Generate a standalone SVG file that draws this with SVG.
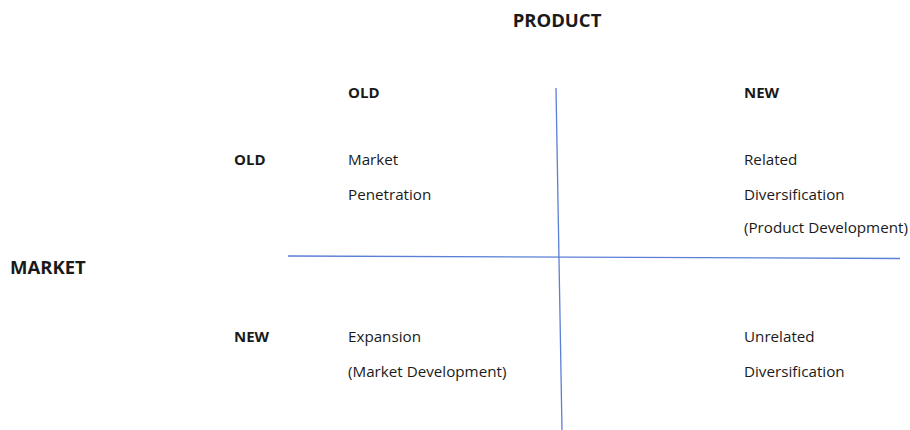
<svg xmlns="http://www.w3.org/2000/svg" width="910" height="430" viewBox="0 0 910 430">
  <style>
    text { font-family: "Open Sans", "Liberation Sans", sans-serif; fill: #1a1a1a; }
    .head { font-size: 18.5px; font-weight: bold; }
    .axis { font-size: 15px; font-weight: bold; }
    .cell { font-size: 15.2px; }
    .rule { stroke: #5b7fd6; stroke-width: 1.3; fill: none; }
  </style>
  <rect width="910" height="430" fill="#ffffff"/>

  <g id="connectors">
    <line class="rule" x1="288" y1="256" x2="900" y2="258.5"/>
    <line class="rule" x1="556" y1="88" x2="562" y2="430"/>
  </g>

  <g id="product-axis">
    <text class="head" x="557" y="27" text-anchor="middle">PRODUCT</text>
    <text class="axis" x="348" y="98">OLD</text>
    <text class="axis" x="744" y="98">NEW</text>
  </g>

  <g id="market-axis">
    <text class="head" x="10" y="274">MARKET</text>
    <text class="axis" x="234" y="165">OLD</text>
    <text class="axis" x="234" y="342">NEW</text>
  </g>

  <g id="market-penetration">
    <text class="cell" x="348" y="165">Market</text>
    <text class="cell" x="348" y="200">Penetration</text>
  </g>

  <g id="related-diversification">
    <text class="cell" x="744" y="165">Related</text>
    <text class="cell" x="744" y="200">Diversification</text>
    <text class="cell" x="744" y="233">(Product Development)</text>
  </g>

  <g id="expansion">
    <text class="cell" x="348" y="342">Expansion</text>
    <text class="cell" x="348" y="377">(Market Development)</text>
  </g>

  <g id="unrelated-diversification">
    <text class="cell" x="744" y="342">Unrelated</text>
    <text class="cell" x="744" y="377">Diversification</text>
  </g>
</svg>
